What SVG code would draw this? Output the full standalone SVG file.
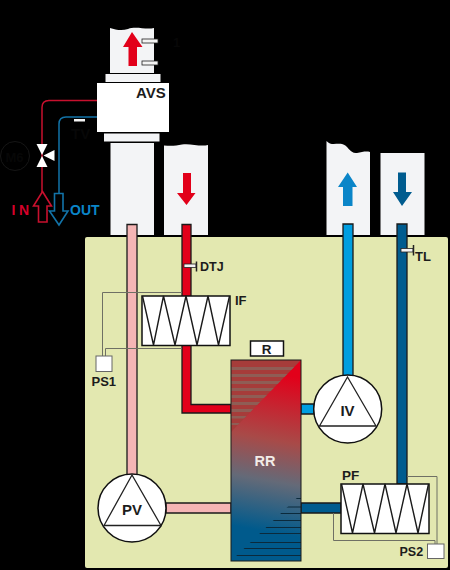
<svg xmlns="http://www.w3.org/2000/svg" width="450" height="570" viewBox="0 0 450 570">
<defs>
<style>
.duct{fill:#f3f4f6}
.box{fill:#fff;stroke:#111;stroke-width:1.5}
.pipe{stroke:#1a1a1a;stroke-width:1.300}
.zig{fill:none;stroke:#1a1a1a;stroke-width:1.4}
.thin{fill:none;stroke:#6f7064;stroke-width:1}
.sens{fill:#f4f4f4;stroke:#222;stroke-width:.8}
.lab{font-family:"Liberation Sans",Arial,sans-serif;font-weight:700;fill:#1c1c1c}
.dark{font-family:"Liberation Sans",Arial,sans-serif;font-weight:700;fill:#070707}
</style>
<linearGradient id="rr" gradientUnits="userSpaceOnUse" x1="285" y1="375" x2="258" y2="530">
<stop offset="0" stop-color="#e2001a"/>
<stop offset=".42" stop-color="#a84a48"/>
<stop offset=".68" stop-color="#646a78"/>
<stop offset="1" stop-color="#005a8c"/>
</linearGradient>
<clipPath id="ul"><path d="M231 360H301L231 432Z"/></clipPath>
<clipPath id="lr"><path d="M301 494V561H231Z"/></clipPath>
</defs>
<rect width="450" height="570" fill="#000"/>
<rect id="panel" x="85" y="237" width="363" height="331" rx="2" fill="#e3e8b0"/>

<g id="ducts">
<path class="duct" d="M110 28C116 30 122 31 128 29C136 26 146 30 154 28V73H110Z"/>
<rect x="105.500" y="74" width="55" height="8" fill="#f3f4f6"/>
<rect x="104" y="133.500" width="55.500" height="8" fill="#f3f4f6"/>
<rect class="duct" x="110.500" y="143" width="43.500" height="92"/>
<path class="duct" d="M164 145.500C170 146 176 146 182 144.500C190 143 200 147 208 145V235H164Z"/>
<path class="duct" d="M326.500 141C331 146 336 143 342 144C348 145 350 154 357 153C362 152 366 151 370 152V235H326.500Z"/>
<rect class="duct" x="380.500" y="153" width="44" height="82"/>
</g>

<g id="connectors">
<path d="M127 224.500H137V476H127Z" fill="#f5b5b5" class="pipe"/>
<path d="M166 503H231V513H166Z" fill="#f5b5b5" class="pipe"/>
<path d="M182 224.500H191V404.500H231V413H182Z" fill="#e2001a" class="pipe"/>
<path d="M343 224H353V378H343Z" fill="#009ee0" class="pipe"/>
<path d="M301 404H314V414H301Z" fill="#009ee0" class="pipe"/>
<path d="M397 224H407V484H397Z" fill="#005c8f" class="pipe"/>
<path d="M301 503H341V513H301Z" fill="#005c8f" class="pipe"/>
<path class="thin" d="M182 292.500H102.500V356"/>
<path class="thin" d="M182 348.500H105.500V356"/>
<path class="thin" d="M407 476.500H437V544"/>
<path class="thin" d="M333.500 513V540.500H435V544"/>
<path d="M97 100.500H49Q42 100.500 42 107.500V192" fill="none" stroke="#c8102e" stroke-width="1.500"/>
<path d="M97 117H66Q59 117 59 124V194" fill="none" stroke="#1273a8" stroke-width="1.500"/>
</g>

<g id="avs">
<rect x="97" y="83" width="72" height="49" fill="#fff"/>
<text class="lab" x="136" y="98" font-size="15">AVS</text>
</g>

<g id="sensor-1">
<rect class="sens" x="142" y="39" width="16" height="4"/>
<rect class="sens" x="142" y="61" width="16" height="4"/>
<text class="dark" x="173" y="47" font-size="13">1</text>
</g>

<g id="arrows">
<path d="M132 32L142.500 47H137V66H128.500V47H123Z" fill="#e2001a"/>
<path d="M183 173H191V193H195.500L186.500 205L177 193H183Z" fill="#e2001a"/>
<path d="M347.700 172.500L357 187H352.500V206H343V187H338Z" fill="#0a85c8"/>
<path d="M398 172.500H406V192H412L402 206L393 192H398Z" fill="#005c8f"/>
</g>

<g id="tv">
<rect x="74" y="119" width="11" height="2.500" fill="#f4f4f4"/>
<text class="dark" x="71" y="139" font-size="15">TV</text>
</g>

<g id="m6">
<circle cx="15" cy="156" r="14.500" fill="none" stroke="#161616" stroke-width="1"/>
<text class="dark" x="5.500" y="161.500" font-size="13">M6</text>
</g>

<g id="valve">
<path d="M36.500 144H47.500L42 155Z" fill="#fff"/>
<path d="M36.500 167H47.500L42 156Z" fill="#fff"/>
<path d="M54.500 150V161L43.500 155.500Z" fill="#fff"/>
</g>

<g id="in">
<path d="M42.500 191.500L51.500 206H47V222H38.500V206H33.500Z" fill="none" stroke="#c8102e" stroke-width="1.600"/>
<text x="11.500" y="215" font-family="Liberation Sans,Arial,sans-serif" font-weight="700" font-size="14" letter-spacing="3.500" fill="#d5002a">IN</text>
</g>

<g id="out">
<path d="M59 225L49.500 211H54.500V193.500H63V211H68Z" fill="none" stroke="#1273a8" stroke-width="1.600"/>
<text x="70" y="215" font-family="Liberation Sans,Arial,sans-serif" font-weight="700" font-size="14" fill="#0a85c8">OUT</text>
</g>

<g id="dtj">
<rect class="sens" x="184" y="264" width="12" height="3.500"/>
<path d="M196.500 261.500V271.500" stroke="#222" stroke-width="1.500"/>
<text class="lab" x="200" y="271" font-size="12.500">DTJ</text>
</g>

<g id="tl">
<rect class="sens" x="401" y="248.500" width="12" height="3.500"/>
<path d="M413.500 245V255.500" stroke="#222" stroke-width="1.500"/>
<text class="lab" x="415" y="261" font-size="13">TL</text>
</g>

<g id="if">
<rect class="box" x="142" y="296" width="88" height="49.500"/>
<path class="zig" d="M142.500 296L153.500 345L163.500 296L175 345L186 296L197 345L208 296L218.500 345L229.500 296"/>
<text class="lab" x="235" y="305" font-size="13">IF</text>
</g>

<g id="ps1">
<rect x="96" y="356" width="16" height="15.500" fill="#fff" stroke="#666" stroke-width="1"/>
<text class="lab" x="91.500" y="386" font-size="13">PS1</text>
</g>

<g id="r">
<rect class="box" x="250.500" y="341" width="33" height="15"/>
<text class="lab" x="266.500" y="353.500" font-size="13.500" text-anchor="middle">R</text>
</g>

<g id="rr-node">
<rect x="231" y="360" width="70" height="201" fill="url(#rr)"/>
<g clip-path="url(#ul)">
<rect x="231" y="360" width="70" height="72" fill="#a63c3a"/>
<g fill="#8f5d55">
<rect x="231" y="367" width="70" height="3"/>
<rect x="231" y="374" width="70" height="3"/>
<rect x="231" y="381" width="70" height="3"/>
<rect x="231" y="388" width="70" height="3"/>
<rect x="231" y="395" width="70" height="3"/>
<rect x="231" y="402" width="70" height="3"/>
<rect x="231" y="409" width="70" height="3"/>
<rect x="231" y="416" width="70" height="2.500"/>
<rect x="231" y="423" width="70" height="2"/>
</g>
</g>
<g clip-path="url(#lr)" stroke="#0b2a3c" stroke-width="1" fill="none">
<path d="M231 498.500H301M231 507H301M231 513.500H301M231 520.500H301M231 527.500H301M231 533.500H301M231 542.500H301M231 548.500H301M231 555.500H301"/>
</g>
<rect x="231" y="360" width="70" height="201" fill="none" stroke="#1a1a1a" stroke-width="1"/>
<text x="265" y="466" font-family="Liberation Sans,Arial,sans-serif" font-weight="700" font-size="14.500" fill="#f2ece8" text-anchor="middle">RR</text>
</g>

<g id="pv">
<circle cx="132" cy="508" r="34" fill="#fff" stroke="#111" stroke-width="1.500"/>
<path d="M132 475L161 525.500H104Z" fill="none" stroke="#222" stroke-width="1.300"/>
<text class="lab" x="132" y="515" font-size="15" text-anchor="middle">PV</text>
</g>

<g id="iv">
<circle cx="347.700" cy="409" r="34" fill="#fff" stroke="#111" stroke-width="1.500"/>
<path d="M347.500 377L376 426H319.500Z" fill="none" stroke="#222" stroke-width="1.300"/>
<text class="lab" x="347.500" y="415.500" font-size="15" text-anchor="middle">IV</text>
</g>

<g id="pf">
<rect class="box" x="341" y="484" width="88" height="49.500"/>
<path class="zig" d="M341.500 484L352.500 533L363 484L374.500 533L385 484L396 533L407 484L418 533L428.500 484"/>
<text class="lab" x="342" y="480" font-size="13.500">PF</text>
</g>

<g id="ps2">
<rect x="427.500" y="544" width="16.500" height="14.500" fill="#fff" stroke="#666" stroke-width="1"/>
<text class="lab" x="399.500" y="556" font-size="12.500">PS2</text>
</g>
</svg>
